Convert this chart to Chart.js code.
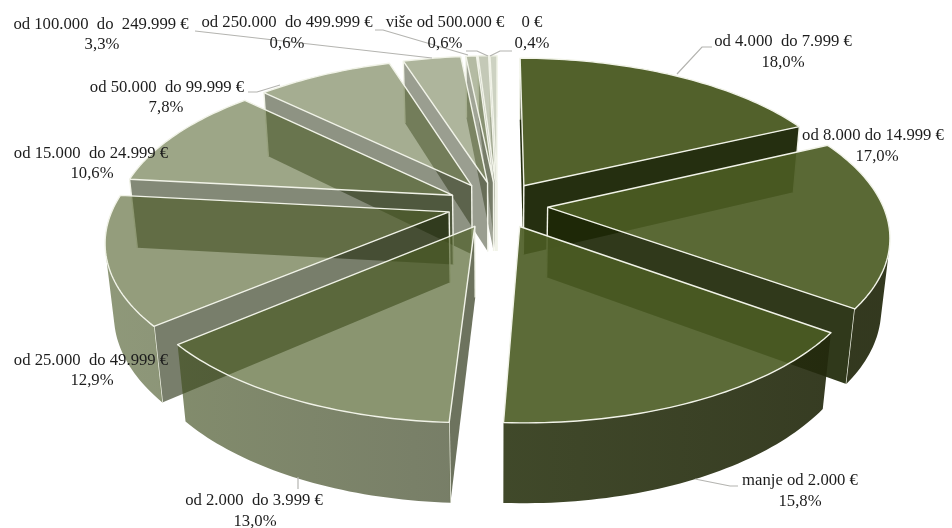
<!DOCTYPE html>
<html>
<head>
<meta charset="utf-8">
<style>
  html, body { margin: 0; padding: 0; background: #fff; }
  canvas { display: block; }
</style>
<script src="https://cdn.jsdelivr.net/npm/chart.js@4"></script>
</head>
<body>
<canvas id="pie3d" width="952" height="528"></canvas>
<script>
// Data
const categories = [
  'od 4.000  do 7.999 €', 'od 8.000 do 14.999 €', 'manje od 2.000 €', 'od 2.000  do 3.999 €',
  'od 25.000  do 49.999 €', 'od 15.000  do 24.999 €', 'od 50.000  do 99.999 €',
  'od 100.000  do  249.999 €', 'od 250.000  do 499.999 €', 'više od 500.000 €', '0 €'
];
const shares = [18.0, 17.0, 15.8, 13.0, 12.9, 10.6, 7.8, 3.3, 0.6, 0.6, 0.4];

// One olive colour, fading out slice after slice
const sliceAlpha = [0.97, 0.92, 0.91, 0.65, 0.6, 0.55, 0.5, 0.45, 0.42, 0.33, 0.28];

// Where the labels sit: centre x of line 1, centre x of line 2, y of line 1, y of line 2
const labelSpots = [
  [783, 783, 42, 63], [873, 877, 136, 157], [800, 800, 481, 502], [254, 255, 501, 522],
  [91, 92, 361, 381], [91, 92, 154, 174], [167, 166, 88, 108], [101, 102, 25, 45],
  [287, 287, 23, 44], [445, 445, 23, 44], [532, 532, 23, 44]
];
const leaders = [
  [[677, 74], [702, 47], [712, 47]],
  [[695, 479], [730, 486], [738, 486]],
  [[298, 477], [298, 489]],
  [[248, 92], [257, 92], [280, 85]],
  [[195, 31], [432, 58]],
  [[375, 30], [383, 30], [468, 55]],
  [[466, 51], [477, 51], [488, 56]],
  [[490, 56], [500, 51], [512, 51]]
];

// Camera used to tilt the flat pie
const EXPLODE = 0.15, TILT = 0.463, PERSP = 0.169, DEPTH = 0.2134, SINK = 0.022, WIDEN = 1.634;

function polyArea(p) {
  let s = 0;
  p.forEach((a, i) => {
    const b = p[(i + 1) % p.length];
    s += a[0] * b[1] - b[0] * a[1];
  });
  return s / 2;
}

function tracePoly(ctx, p) {
  ctx.beginPath();
  p.forEach((q, i) => i ? ctx.lineTo(q[0], q[1]) : ctx.moveTo(q[0], q[1]));
  ctx.closePath();
}

function strokeLine(ctx, a, b) {
  ctx.beginPath();
  ctx.moveTo(a[0], a[1]);
  ctx.lineTo(b[0], b[1]);
  ctx.stroke();
}

const pie3d = {
  id: 'pie3d',
  beforeDatasetsDraw(chart) {
    const ctx = chart.ctx;
    const arcs = chart.getDatasetMeta(0).data;
    const first = arcs[0];
    const S = first.outerRadius * WIDEN;

    const project = (u, v, z) => {
      const w = 1 - PERSP * v + SINK * z;
      return [first.x + S * u / w, first.y + (S * TILT * v + S * DEPTH * z) / w];
    };

    const rimShade = ctx.createLinearGradient(100, 0, 850, 0);
    rimShade.addColorStop(0, 'rgb(68,84,32)');
    rimShade.addColorStop(0.47, 'rgb(47,57,22)');
    rimShade.addColorStop(1, 'rgb(34,40,12)');

    const order = arcs.map((a, i) => i).sort((p, q) => {
      const mid = i => (arcs[i].startAngle + arcs[i].endAngle) / 2;
      return Math.sin(mid(p)) - Math.sin(mid(q));
    });

    order.forEach(i => {
      const arc = arcs[i];
      const mid = (arc.startAngle + arc.endAngle) / 2;
      const ex = EXPLODE * Math.cos(mid), ey = EXPLODE * Math.sin(mid);
      const rim = (a, z) => project(Math.cos(a) + ex, Math.sin(a) + ey, z);
      const steps = Math.max(2, Math.ceil((arc.endAngle - arc.startAngle) / 0.02));
      const angles = [];
      for (let k = 0; k <= steps; k++) angles.push(arc.startAngle + (arc.endAngle - arc.startAngle) * k / steps);

      const apexT = project(ex, ey, 0), apexB = project(ex, ey, 1);
      const topRim = angles.map(a => rim(a, 0)), lowRim = angles.map(a => rim(a, 1));
      const alpha = sliceAlpha[i];

      ctx.save();
      ctx.lineJoin = 'round';
      ctx.lineWidth = 1.4;
      ctx.strokeStyle = arc.options.borderColor;

      // cut walls, only the ones turned towards the viewer
      const startWall = [apexT, topRim[0], lowRim[0], apexB];
      const endWall = [apexT, topRim[steps], lowRim[steps], apexB];
      if (polyArea(startWall) < 0) {
        ctx.globalAlpha = alpha;
        ctx.fillStyle = 'rgb(30,40,8)';
        tracePoly(ctx, startWall);
        ctx.fill();
        ctx.globalAlpha = 1;
        strokeLine(ctx, apexT, apexB);
        strokeLine(ctx, topRim[0], lowRim[0]);
      }
      if (polyArea(endWall) > 0) {
        ctx.globalAlpha = alpha;
        ctx.fillStyle = 'rgb(30,40,8)';
        tracePoly(ctx, endWall);
        ctx.fill();
        ctx.globalAlpha = 1;
        strokeLine(ctx, apexT, apexB);
        strokeLine(ctx, topRim[steps], lowRim[steps]);
      }

      // outer wall
      let from = -1, to = -1;
      for (let k = 0; k < steps; k++) {
        if (polyArea([topRim[k], topRim[k + 1], lowRim[k + 1], lowRim[k]]) < 0) {
          if (from < 0) from = k;
          to = k + 1;
        }
      }
      if (from >= 0) {
        const wall = topRim.slice(from, to + 1).concat(lowRim.slice(from, to + 1).reverse());
        ctx.globalAlpha = alpha;
        ctx.fillStyle = rimShade;
        tracePoly(ctx, wall);
        ctx.fill();
        ctx.globalAlpha = 1;
      }

      // top face
      const top = [apexT].concat(topRim);
      ctx.fillStyle = arc.options.backgroundColor;
      tracePoly(ctx, top);
      ctx.fill();
      ctx.stroke();
      ctx.restore();
    });

    // leader lines
    ctx.save();
    ctx.strokeStyle = '#b4b4b0';
    ctx.lineWidth = 1.2;
    leaders.forEach(l => {
      ctx.beginPath();
      l.forEach((q, k) => k ? ctx.lineTo(q[0], q[1]) : ctx.moveTo(q[0], q[1]));
      ctx.stroke();
    });
    ctx.restore();

    // the library's flat arcs are replaced by the tilted ones above
    return false;
  },
  afterDraw(chart) {
    const ctx = chart.ctx;
    ctx.save();
    ctx.fillStyle = '#1c1c1c';
    ctx.font = '16.7px "Liberation Serif"';
    ctx.textAlign = 'center';
    ctx.textBaseline = 'middle';
    categories.forEach((name, i) => {
      const spot = labelSpots[i];
      ctx.fillText(name, spot[0], spot[2]);
      ctx.fillText(shares[i].toFixed(1).replace('.', ',') + '%', spot[1], spot[3]);
    });
    ctx.restore();
  }
};

new Chart(document.getElementById('pie3d'), {
  type: 'pie',
  data: {
    labels: categories,
    datasets: [{
      data: shares,
      backgroundColor: sliceAlpha.map(a => 'rgba(76,92,36,' + a + ')'),
      borderColor: '#f1f3e8',
      borderWidth: 0
    }]
  },
  options: {
    responsive: false,
    animation: false,
    devicePixelRatio: 1,
    layout: { padding: { left: 43, bottom: 118 } },
    plugins: { legend: { display: false }, tooltip: { enabled: false } }
  },
  plugins: [pie3d]
});
</script>
</body>
</html>
